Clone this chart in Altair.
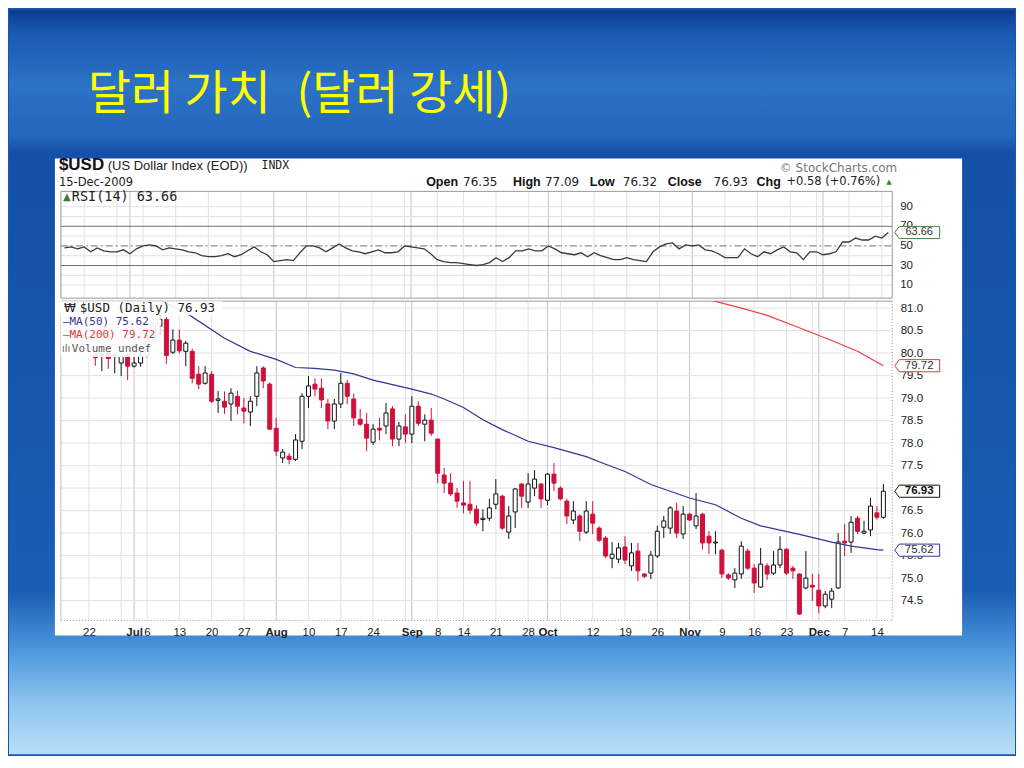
import altair as alt
import pandas as pd

# ---------------- data ----------------
first_idx = 1  # trading-day index of first candle (0 = 22 Jun 2009)
opens = [79.98, 79.96, 80.00, 79.95, 79.78, 79.98, 79.71, 79.78, 79.95, 80.35,
         80.60, 80.75, 80.02, 80.29, 80.04, 80.04, 79.53, 79.33, 79.53, 78.95,
         78.93, 78.87, 79.04, 78.78, 78.69, 79.04, 79.67, 79.31, 78.33, 77.67,
         77.71, 77.64, 78.04, 79.04, 79.31, 79.22, 78.87, 78.49, 78.87, 79.33,
         78.98, 78.53, 78.42, 78.02, 78.33, 78.38, 78.76, 78.09, 78.36, 78.20,
         78.82, 78.42, 78.51, 78.09, 77.29, 77.11, 76.89, 76.67, 76.64, 76.53,
         76.30, 76.33, 76.64, 76.82, 76.02, 76.47, 77.09, 76.69, 77.00, 77.09,
         76.73, 77.31, 77.00, 76.71, 76.29, 76.38, 76.02, 76.42, 76.11, 75.89,
         75.44, 75.42, 75.69, 75.27, 75.60, 75.09, 75.11, 75.49, 76.13, 76.11,
         76.49, 75.98, 76.42, 76.16, 76.42, 75.93, 75.78, 75.62, 75.07, 74.96,
         75.09, 75.60, 75.22, 74.80, 75.27, 75.11, 75.29, 75.64, 75.22, 75.09,
         74.78, 74.84, 74.73, 74.38, 74.53, 74.78, 75.82, 75.80, 76.33, 76.00,
         76.07, 76.45, 76.35]
highs = [80.00, 80.00, 80.02, 79.99, 79.98, 80.00, 79.98, 80.05, 80.40, 80.70,
         80.90, 80.80, 80.53, 80.53, 80.27, 80.10, 79.71, 79.71, 79.60, 79.16,
         79.15, 79.22, 79.16, 79.00, 79.04, 79.71, 79.71, 79.35, 78.56, 77.87,
         77.78, 78.20, 79.11, 79.49, 79.44, 79.44, 78.98, 78.98, 79.56, 79.40,
         79.10, 78.76, 78.67, 78.42, 78.56, 78.89, 78.82, 78.47, 78.64, 79.04,
         78.93, 78.64, 78.78, 78.09, 77.45, 77.33, 77.00, 77.16, 77.16, 76.62,
         76.53, 76.76, 77.20, 76.85, 76.60, 77.00, 77.11, 77.33, 77.40, 77.11,
         77.33, 77.56, 77.04, 76.76, 76.71, 76.42, 76.71, 76.71, 76.15, 75.93,
         75.80, 75.78, 75.93, 75.78, 75.78, 75.11, 75.60, 76.16, 76.38, 76.60,
         76.67, 76.60, 76.45, 76.89, 76.45, 76.04, 76.04, 75.65, 75.11, 75.22,
         75.82, 75.65, 75.31, 75.67, 75.33, 75.60, 75.93, 75.67, 75.27, 75.10,
         75.60, 75.09, 75.09, 74.71, 74.78, 76.00, 76.20, 76.38, 76.38, 76.27,
         76.78, 76.60, 77.09]
lows = [79.72, 79.60, 79.65, 79.55, 79.49, 79.40, 79.68, 79.70, 79.90, 80.25,
        80.40, 79.76, 79.98, 80.00, 79.71, 79.33, 79.20, 79.30, 78.89, 78.67,
        78.65, 78.49, 78.64, 78.44, 78.38, 78.82, 79.22, 78.29, 77.71, 77.56,
        77.53, 77.60, 77.87, 78.78, 79.04, 78.78, 78.31, 78.31, 78.78, 78.87,
        78.38, 78.38, 77.82, 77.96, 78.06, 78.20, 77.93, 77.93, 78.00, 78.00,
        78.38, 78.04, 78.16, 77.11, 76.89, 76.82, 76.56, 76.44, 76.42, 76.16,
        76.04, 76.27, 76.53, 76.07, 75.87, 76.11, 76.56, 76.56, 76.82, 76.56,
        76.62, 76.93, 76.73, 76.20, 76.20, 75.82, 75.98, 75.98, 75.80, 75.44,
        75.22, 75.33, 75.31, 75.16, 74.93, 75.00, 74.98, 75.45, 75.89, 75.98,
        75.89, 75.87, 76.27, 76.09, 75.64, 75.53, 75.53, 75.00, 74.96, 74.78,
        74.98, 75.18, 74.67, 74.78, 74.96, 75.07, 75.22, 75.07, 74.98, 74.18,
        74.75, 74.49, 74.22, 74.33, 74.33, 74.76, 75.49, 75.56, 75.98, 75.98,
        75.93, 76.30, 76.32]
closes = [79.90, 79.98, 79.88, 79.97, 79.93, 79.71, 79.78, 79.95, 80.35, 80.60,
          80.75, 79.95, 80.29, 80.05, 80.22, 79.44, 79.31, 79.56, 78.93, 78.98,
          78.80, 79.11, 78.82, 78.71, 78.93, 79.56, 79.38, 78.31, 77.82, 77.80,
          77.64, 78.07, 79.04, 79.27, 79.20, 78.96, 78.49, 78.87, 79.33, 79.04,
          78.56, 78.42, 78.11, 78.31, 78.29, 78.67, 78.09, 78.38, 78.20, 78.82,
          78.44, 78.51, 78.22, 77.33, 77.11, 76.87, 76.71, 76.62, 76.51, 76.22,
          76.33, 76.56, 76.87, 76.11, 76.38, 76.98, 76.82, 77.09, 77.20, 76.76,
          77.31, 77.11, 76.76, 76.38, 76.49, 76.04, 76.49, 76.22, 75.84, 75.49,
          75.53, 75.67, 75.40, 75.56, 75.16, 75.04, 75.51, 76.04, 76.27, 76.56,
          76.00, 76.42, 76.29, 76.38, 75.78, 75.78, 75.80, 75.09, 75.00, 75.11,
          75.71, 75.22, 74.89, 75.31, 75.09, 75.29, 75.64, 75.11, 75.16, 74.20,
          75.00, 74.80, 74.38, 74.64, 74.71, 75.80, 75.78, 76.24, 76.04, 76.04,
          76.60, 76.35, 76.93]

rsi_first_idx = -3
rsi_vals = [48, 49, 47, 49, 44, 48, 45, 44, 44, 46,
            42, 47, 50, 51, 50, 46, 48, 47, 46, 44,
            43, 40, 39, 39, 40, 42, 39, 41, 45, 49,
            44, 41, 34, 35, 36, 35, 43, 50, 50, 48,
            44, 48, 52, 48, 45, 44, 42, 44, 46, 43,
            43, 44, 50, 49, 48, 47, 42, 36, 34, 33,
            33, 32, 31, 30, 31, 33, 38, 34, 38, 45,
            45, 47, 45, 45, 50, 47, 43, 42, 41, 43,
            39, 43, 40, 38, 36, 36, 38, 36, 35, 34,
            44, 49, 52, 53, 47, 51, 50, 51, 46, 45,
            42, 38, 38, 38, 47, 42, 39, 44, 42, 46,
            49, 44, 43, 36, 44, 44, 41, 42, 44, 54,
            54, 58, 56, 56, 60, 58, 63.66]

ma50_idx = [9, 11, 15, 21, 25, 29, 32, 35, 38, 41, 44, 50, 53, 55, 58, 61, 64, 68, 72, 77,
            80, 83, 87, 93, 97, 101, 104, 110, 115, 118, 122, 123]
ma50_vals = [81.35, 81.18, 80.90, 80.33, 80.04, 79.86, 79.68, 79.66, 79.62, 79.54,
             79.40, 79.20, 79.09, 78.98, 78.79, 78.52, 78.30, 78.04, 77.90, 77.70,
             77.53, 77.37, 77.08, 76.78, 76.63, 76.33, 76.16, 75.97, 75.80, 75.71,
             75.63, 75.62]
ma200_idx = [94, 97, 100, 105, 109, 115, 119, 123]
ma200_vals = [81.26, 81.15, 81.04, 80.84, 80.62, 80.28, 80.04, 79.72]

tick_idx = [0, 7, 9, 14, 19, 24, 29, 34, 39, 44, 50, 54, 58, 63, 68, 71, 78, 83, 88, 93,
            98, 103, 108, 113, 117, 122]
tick_labels = ['22', 'Jul', '6', '13', '20', '27', 'Aug', '10', '17', '24', 'Sep', '8', '14',
               '21', '28', 'Oct', '12', '19', '26', 'Nov', '9', '16', '23', 'Dec', '7', '14']
month_idx = [7, 29, 50, 71, 93, 113]
week_idx = [0, 5, 9, 14, 19, 24, 34, 39, 44, 49, 54, 58, 63, 68, 73, 78, 83, 88, 98, 103,
            108, 112, 117, 122]
price_grid = [74.5, 75.0, 75.5, 76.0, 76.5, 77.0, 77.5, 78.0, 78.5, 79.0, 79.5, 80.0, 80.5, 81.0]
price_labels = [74.5, 75.0, 75.5, 76.0, 76.5, 77.5, 78.0, 78.5, 79.0, 79.5, 80.0, 80.5, 81.0]
rsi_ticks = [10, 30, 50, 70, 90]
rsi_grid = [10, 20, 40, 60, 80, 90]
rsi_bands = [30, 70]
rsi_mid = [50]

# ---------------- layout ----------------
W = 833
H_RSI = 107
H_PX = 320
RED = '#d0103a'
TAG = "M-1,0L-0.8,-0.27L1,-0.27L1,0.27L-0.8,0.27Z"

xscale = alt.Scale(domain=[-3.56, 123.6], nice=False, zero=False)
pscale = alt.Scale(domain=[74.056, 81.155], nice=False, zero=False)
rscale = alt.Scale(domain=[-3.3, 105.6], nice=False, zero=False)

one = pd.DataFrame({'k': [0]})


def txt(s, x, y, size=12, weight='normal', color='#222', font='Liberation Sans', align='left'):
    return alt.Chart(one).mark_text(text=s, fontSize=size, fontWeight=weight, color=color,
                                    font=font, align=align, baseline='middle').encode(
        x=alt.value(x), y=alt.value(y))


def box(x, x2, y, y2, **kw):
    return alt.Chart(one).mark_rect(**kw).encode(
        x=alt.value(x), x2=alt.value(x2), y=alt.value(y), y2=alt.value(y2))


def hline(x, x2, y, **kw):
    return alt.Chart(one).mark_rule(**kw).encode(x=alt.value(x), x2=alt.value(x2), y=alt.value(y))


def vline(x, y, y2, **kw):
    return alt.Chart(one).mark_rule(**kw).encode(x=alt.value(x), y=alt.value(y), y2=alt.value(y2))


bg_grad = {"gradient": "linear", "x1": 0, "y1": 0, "x2": 0, "y2": 1,
           "stops": [{"offset": 0.0, "color": "#0b3a8c"},
                     {"offset": 0.03, "color": "#1a58b2"},
                     {"offset": 0.10, "color": "#2c72c6"},
                     {"offset": 0.17, "color": "#2467bd"},
                     {"offset": 0.19, "color": "#1450a8"},
                     {"offset": 0.78, "color": "#1a5db4"},
                     {"offset": 0.86, "color": "#4b98dc"},
                     {"offset": 0.93, "color": "#8cc4ee"},
                     {"offset": 1.0, "color": "#b8def6"}]}

# ---------------- RSI panel (with slide background & header) ----------------
xr = alt.X('i:Q', scale=xscale, axis=None)
rsi_df = pd.DataFrame({'i': list(range(rsi_first_idx, rsi_first_idx + len(rsi_vals))), 'rsi': rsi_vals})

rsi_layers = [
    box(-52, 956, -182, 564, color=bg_grad),
    box(-6, 903, -33, 445, color='white'),
    txt('달러 가치', 27, -97, size=47, color='#ffff00', font='Noto Sans CJK KR'),
    txt('(달러 강세)', 236, -97, size=47, color='#ffff00', font='Noto Sans CJK KR'),
    txt('$USD', -2, -26, size=17, weight='bold', color='#111'),
    txt('(US Dollar Index (EOD))', 47, -25, size=13),
    txt('INDX', 201, -25, size=11.5, font='DejaVu Sans Mono'),
    txt('15-Dec-2009', -2, -8, size=11.5, font='DejaVu Sans'),
    txt('© StockCharts.com', 838, -23, size=12, color='#777', font='DejaVu Sans', align='right'),
    txt('Open', 366, -9, size=12.5, weight='bold', color='#111'),
    txt('76.35', 403, -9, size=12, font='DejaVu Sans'),
    txt('High', 453, -9, size=12.5, weight='bold', color='#111'),
    txt('77.09', 485, -9, size=12, font='DejaVu Sans'),
    txt('Low', 530, -9, size=12.5, weight='bold', color='#111'),
    txt('76.32', 563, -9, size=12, font='DejaVu Sans'),
    txt('Close', 608, -9, size=12.5, weight='bold', color='#111'),
    txt('76.93', 654, -9, size=12, font='DejaVu Sans'),
    txt('Chg', 697, -9, size=12.5, weight='bold', color='#111'),
    txt('+0.58 (+0.76%)', 727, -9, size=11.5, font='DejaVu Sans'),
    txt('▲', 827, -9, size=7, color='#2a8a2a', font='DejaVu Sans'),
    alt.Chart(pd.DataFrame({'i': week_idx})).mark_rule(color='#e2e2e2').encode(
        x=xr, y=alt.value(0), y2=alt.value(H_RSI)),
    alt.Chart(pd.DataFrame({'i': month_idx})).mark_rule(color='#c4c4c4').encode(
        x=xr, y=alt.value(0), y2=alt.value(H_RSI)),
    alt.Chart(pd.DataFrame({'v': rsi_grid})).mark_rule(color='#e2e2e2').encode(
        y=alt.Y('v:Q', scale=rscale, axis=None), x=alt.value(0), x2=alt.value(W)),
    alt.Chart(pd.DataFrame({'v': rsi_bands})).mark_rule(color='#707070').encode(
        y=alt.Y('v:Q', scale=rscale, axis=None), x=alt.value(0), x2=alt.value(W)),
    alt.Chart(pd.DataFrame({'v': rsi_mid})).mark_rule(color='#707070', strokeDash=[7, 3, 2, 3]).encode(
        y=alt.Y('v:Q', scale=rscale, axis=None), x=alt.value(0), x2=alt.value(W)),
    alt.Chart(rsi_df).mark_line(color='#3a3a3a', strokeWidth=1.3).encode(
        x=xr, y=alt.Y('rsi:Q', scale=rscale, axis=None)),
    box(0, W, 0, H_RSI, fillOpacity=0, stroke='#999', strokeWidth=1),
    alt.Chart(pd.DataFrame({'v': rsi_ticks})).mark_text(
        align='left', baseline='middle', fontSize=11.5, font='Liberation Sans', color='#222').encode(
        y=alt.Y('v:Q', scale=rscale, axis=None), x=alt.value(W + 8), text=alt.Text('v:Q')),
    txt('▲', 2, 6, size=10, color='#3a7a3a', font='DejaVu Sans'),
    txt('RSI(14) 63.66', 11, 6, size=13.5, font='DejaVu Sans Mono'),
    alt.Chart(pd.DataFrame({'v': [rsi_vals[-1]]})).mark_point(
        shape=TAG, size=2025, filled=True, fill='white', stroke='#3d8b3d', strokeWidth=1, opacity=1).encode(
        y=alt.Y('v:Q', scale=rscale, axis=None), x=alt.value(W + 25)),
    alt.Chart(pd.DataFrame({'v': [rsi_vals[-1]]})).mark_text(
        fontSize=11, font='Liberation Sans', color='#333', baseline='middle').encode(
        y=alt.Y('v:Q', scale=rscale, axis=None), x=alt.value(W + 27), text=alt.Text('v:Q', format='.2f')),
]
rsi_chart = alt.layer(*rsi_layers).properties(width=W, height=H_RSI)

# ---------------- price panel ----------------
lab_expr = " : ".join(f"datum.value == {i} ? '{l}'" for i, l in zip(tick_idx, tick_labels)) + " : ''"
x_axis = alt.Axis(values=tick_idx, labelExpr=lab_expr, grid=False, ticks=False, domain=False,
                  labelPadding=6, labelFontSize=11.5, labelFont='Liberation Sans', labelColor='#222',
                  labelOverlap=False, title=None,
                  labelFontWeight={"condition": {"test": f"indexof({month_idx}, datum.value) >= 0",
                                                 "value": "bold"}, "value": "normal"})
y_axis = alt.Axis(orient='right', values=price_labels, format='.1f', grid=False, ticks=False,
                  domain=False, labelPadding=8, labelFontSize=11.5, labelFont='Liberation Sans',
                  labelColor='#222', title=None)
xp = alt.X('i:Q', scale=xscale, axis=x_axis)

px_df = pd.DataFrame({'i': list(range(first_idx, first_idx + len(opens))),
                      'open': opens, 'high': highs, 'low': lows, 'close': closes})
ma50_df = pd.DataFrame({'i': ma50_idx, 'ma': ma50_vals})
ma200_df = pd.DataFrame({'i': ma200_idx, 'ma': ma200_vals})
up = 'datum.close >= datum.open'


def tag(value, stroke, text_color='#333', weight='normal'):
    d = pd.DataFrame({'v': [value]})
    pt = alt.Chart(d).mark_point(shape=TAG, size=2025, filled=True, fill='white', stroke=stroke,
                                 strokeWidth=1, opacity=1).encode(
        y=alt.Y('v:Q', scale=pscale, axis=y_axis), x=alt.value(W + 25))
    tx = alt.Chart(d).mark_text(fontSize=11.5, font='Liberation Sans', color=text_color,
                                fontWeight=weight, baseline='middle').encode(
        y=alt.Y('v:Q', scale=pscale, axis=y_axis), x=alt.value(W + 27),
        text=alt.Text('v:Q', format='.2f'))
    return [pt, tx]


px_layers = [
    alt.Chart(pd.DataFrame({'i': week_idx})).mark_rule(color='#e2e2e2').encode(
        x=xp, y=alt.value(0), y2=alt.value(H_PX)),
    alt.Chart(pd.DataFrame({'i': month_idx})).mark_rule(color='#c4c4c4').encode(
        x=xp, y=alt.value(0), y2=alt.value(H_PX)),
    alt.Chart(pd.DataFrame({'p': price_grid})).mark_rule(color='#e2e2e2').encode(
        y=alt.Y('p:Q', scale=pscale, axis=y_axis), x=alt.value(0), x2=alt.value(W)),
    hline(0, W, 0, color='#999'),
    vline(0, 0, H_PX, color='#c4c4c4'),
    vline(W, 0, H_PX, color='#999', strokeDash=[1, 2]),
    hline(0, W, H_PX, color='#999', strokeDash=[1, 2]),
    alt.Chart(px_df).mark_rule(strokeWidth=1).encode(
        x=xp, y=alt.Y('low:Q', scale=pscale, axis=y_axis), y2='high:Q',
        color=alt.condition(up, alt.value('#111'), alt.value(RED))),
    alt.Chart(px_df).mark_bar(size=4, strokeWidth=1).encode(
        x=xp, y=alt.Y('open:Q', scale=pscale, axis=y_axis), y2='close:Q',
        fill=alt.condition(up, alt.value('white'), alt.value(RED)),
        stroke=alt.condition(up, alt.value('#111'), alt.value(RED))),
    alt.Chart(ma50_df).mark_line(color='#33339a', strokeWidth=1.2, clip=True).encode(
        x=xp, y=alt.Y('ma:Q', scale=pscale, axis=y_axis)),
    alt.Chart(ma200_df).mark_line(color='#f03c3c', strokeWidth=1.2, clip=True).encode(
        x=xp, y=alt.Y('ma:Q', scale=pscale, axis=y_axis)),
    box(-2, 162, 0, 14, color='white', opacity=0.9),
    box(0, 100, 14, 56, color='white', opacity=0.9),
    txt('₩', 3, 7, size=12, color='#222', font='DejaVu Sans'),
    txt('$USD (Daily) 76.93', 19, 7, size=12.5, font='DejaVu Sans Mono'),
    txt('—MA(50) 75.62', 2, 21, size=11, color='#33339a', font='DejaVu Sans Mono'),
    txt('—MA(200) 79.72', 2, 34, size=11, color='#e8343a', font='DejaVu Sans Mono'),
    txt('ılı', 1, 48, size=10, color='#666', font='DejaVu Sans'),
    txt('Volume undef', 11, 48, size=11, color='#555', font='DejaVu Sans Mono'),
]
px_layers += tag(ma200_vals[-1], '#e8343a')
px_layers += tag(closes[-1], '#111', '#111', 'bold')
px_layers += tag(ma50_vals[-1], '#33339a')

price_chart = alt.layer(*px_layers).properties(width=W, height=H_PX)

chart = alt.vconcat(rsi_chart, price_chart, spacing=3, bounds='flush', padding=0,
                    background='#1656ad').configure_view(stroke='transparent')

chart.save("out.html", embed_options={"renderer": "svg", "actions": False})
